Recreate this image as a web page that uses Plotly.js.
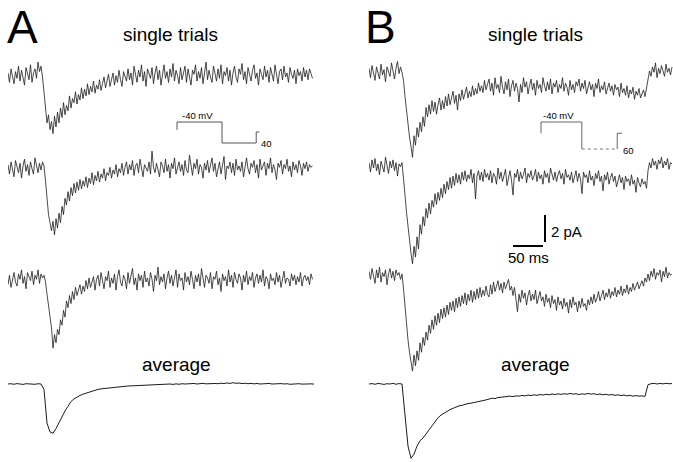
<!DOCTYPE html>
<html>
<head>
<meta charset="utf-8">
<script src="https://cdn.plot.ly/plotly-3.0.1.min.js"></script>
<style>html,body{margin:0;padding:0;background:#fff;}#chart{width:673px;height:462px;}</style>
</head>
<body>
<div id="chart"></div>
<script>
// sampling intervals (ms)
const DT_TRIAL = 2.5;
const DT_AVG = 5;

// Panel A single trials (pA, relative to baseline), sampled every 2.5 ms
const A_trial1 = [0.3,-0.4,0.6,0.1,-0.5,0.4,-0.1,0.8,-0.3,0.5,
 0.0,-0.6,0.7,0.2,-0.2,0.9,-0.4,0.3,0.6,-0.1,
 1.1,0.4,0.8,
 0.0,-1.2,-2.3,-3.4,-2.8,-3.9,-3.3,
 -4.2,-2.9,-3.7,-2.6,-3.4,-2.3,-3.0,-1.9,-2.8,-2.1,
 -2.5,-1.4,-2.3,-1.6,-1.9,-1.1,-2.0,-1.3,-1.7,-0.8,
 -1.6,-0.9,-1.4,-0.5,-1.3,-0.7,-1.1,-0.3,-1.2,-0.6,
 -0.9,-0.2,-1.0,-0.5,0.0,-0.8,-0.3,0.2,-0.7,-0.1,
 0.3,-0.6,0.1,-0.4,0.5,-0.2,-0.7,0.4,0.0,-0.3,
 0.6,-0.2,0.3,-0.6,0.8,0.1,-0.4,0.5,0.0,0.9,
 -0.3,0.4,-0.7,0.6,0.2,-0.1,0.7,-0.5,0.3,0.8,
 -0.2,0.5,-0.6,0.2,0.9,-0.1,0.4,-0.4,0.6,0.0,
 1.0,-0.3,0.5,0.1,-0.5,0.7,-0.2,0.3,0.8,-0.4,
 0.6,0.0,-0.6,0.5,0.2,0.9,-0.3,0.4,-0.1,0.7,
 -0.5,0.3,1.1,-0.2,0.5,0.0,-0.4,0.8,0.2,-0.3,
 0.6,-0.1,0.9,-0.5,0.4,0.1,0.7,-0.3,0.5,-0.6,
 0.3,0.8,0.0,-0.4,0.6,0.2,1.0,-0.2,0.4,-0.5,
 0.7,0.1,-0.3,0.5,0.9,-0.1,0.3,-0.6,0.6,0.2,
 -0.2,0.8,0.0,0.5,-0.4,0.7,0.1,-0.3,0.9,0.3,
 -0.5,0.4,0.6,-0.2,0.8,0.0,0.3,-0.4,0.7,0.2,
 -0.1,0.5,-0.5,0.6,0.1,0.4,-0.3,0.7,0.0,0.5,
 -0.2,0.6,0.3,-0.1];
const A_trial2 = [0.4,-0.3,0.6,0.0,-0.5,0.7,0.2,-0.2,0.5,-0.6,
 0.3,0.8,-0.1,0.4,-0.4,0.6,0.1,-0.3,0.9,0.2,
 -0.2,0.5,0.0,0.6,0.3,
 -0.8,-2.1,-3.3,-3.9,-4.5,
 -3.8,-4.8,-3.6,-4.3,-3.2,-3.9,-2.7,-3.3,-2.1,-2.6,
 -1.6,-2.3,-1.3,-1.9,-1.0,-1.7,-0.9,-1.5,-0.7,-1.4,
 -0.8,-1.2,-0.5,-1.3,-0.6,-1.0,-0.2,-1.1,-0.4,-0.8,
 -0.1,-0.9,-0.3,-0.6,0.1,-0.8,-0.2,-0.4,0.2,-0.6,
 0.0,-0.3,0.4,-0.5,0.1,-0.2,0.5,-0.4,0.2,0.6,
 -0.3,0.4,0.0,0.7,-0.4,0.3,0.5,-0.2,0.8,0.1,
 -0.5,0.4,0.2,-0.1,0.6,-0.3,1.4,0.2,-0.2,0.5,
 0.0,-0.5,0.6,0.3,-0.2,0.8,-0.1,0.4,-0.6,0.5,
 0.1,0.9,-0.3,0.3,0.6,-0.1,0.4,-0.4,0.7,0.0,
 -0.2,1.1,0.3,-0.4,0.5,0.1,0.8,-0.3,0.4,0.2,
 -0.6,0.5,0.0,0.7,-0.2,0.3,0.9,-0.1,0.5,-0.5,
 0.2,0.6,-0.3,0.4,1.0,-0.7,0.3,0.1,0.6,-0.2,
 0.5,-0.4,0.8,0.0,0.3,-0.1,0.6,-0.5,0.4,0.9,
 0.1,-0.3,0.5,0.2,0.7,-0.2,0.4,-0.6,0.8,0.0,
 0.3,0.6,-0.4,0.5,0.1,0.9,-0.2,0.4,0.0,-0.7,
 0.5,0.2,0.7,-0.3,0.4,0.1,0.8,-0.1,0.3,-0.5,
 0.6,0.0,0.4,-0.2,0.7,0.3,-0.4,0.5,0.1,0.6,
 -0.1,0.4,0.2,0.3];
const A_trial3 = [-0.2,0.5,-0.4,0.3,0.7,0.0,-0.3,0.6,0.2,0.9,
 -0.1,0.4,-0.5,0.7,0.3,0.1,0.8,-0.2,0.5,0.2,
 0.9,-0.1,0.6,0.3,0.5,
 0.0,-0.9,-1.8,-2.6,-3.4,
 -4.9,-3.9,-4.5,-3.5,-3.9,-2.8,-3.2,-2.1,-2.6,-1.4,
 -1.9,-1.0,-1.6,-0.7,-1.3,-0.4,-1.0,-0.6,-0.2,-0.9,
 -0.3,-0.7,0.1,-0.5,0.3,-0.4,0.0,0.4,-0.6,0.2,
 0.5,-0.3,0.7,0.0,-0.5,0.4,0.1,0.8,-0.4,0.3,
 -0.1,0.6,-0.6,0.4,0.9,0.0,-0.3,0.5,0.2,-0.5,
 0.7,-0.1,0.4,1.0,-0.2,0.3,-0.6,0.6,0.1,0.5,
 -0.4,0.8,0.0,0.3,-0.3,0.7,0.2,-0.7,0.5,0.1,
 1.1,-0.2,0.4,0.0,0.6,-0.5,0.3,0.8,-0.1,0.5,
 -0.3,0.2,0.9,-0.4,0.6,0.1,0.3,-0.6,0.7,0.0,
 0.4,-0.2,0.8,0.2,-0.5,0.5,0.0,0.6,-0.3,1.0,
 0.1,-0.4,0.5,0.3,-0.1,0.7,-0.5,0.4,0.2,0.8,
 -0.2,0.3,-0.7,0.6,0.1,0.4,-0.3,0.9,0.0,0.5,
 -0.4,0.7,0.2,-0.1,0.6,0.3,-0.6,0.5,0.0,0.8,
 -0.2,0.4,0.1,0.7,-0.4,0.3,0.6,-0.1,0.5,0.0,
 0.9,-0.3,0.4,0.2,-0.5,0.6,0.1,0.3,-0.2,0.7,
 0.0,0.5,-0.4,0.4,0.8,-0.1,0.3,0.2,-0.3,0.6,
 0.1,0.5,-0.2,0.4,0.0,0.7,-0.3,0.3,0.5,0.1,
 0.4,-0.2,0.6,0.2];
// Panel A average (pA), sampled every 5 ms
const A_average = [0.0,0.02,-0.02,0.03,0.0,-0.03,0.02,0.0,0.03,-0.02,0.02,0.0,
 -0.4,-2.9,-3.55,-3.65,-3.3,-2.85,-2.45,-2.0,-1.65,-1.3,-1.1,-0.95,-0.85,-0.75,-0.68,-0.6,-0.5,-0.45,-0.4,-0.36,-0.33,-0.3,-0.27,-0.25,-0.24,-0.2,-0.2,-0.17,-0.15,
 -0.14,-0.1,-0.12,-0.08,-0.1,-0.06,-0.08,-0.05,-0.07,-0.03,-0.06,-0.02,-0.04,0.0,-0.03,0.01,-0.02,0.02,0.0,0.03,0.01,0.04,0.0,0.02,0.05,0.01,0.03,0.0,0.04,0.02,0.06,0.03,0.08,0.04,0.1,0.05,0.07,0.03,0.06,0.02,0.05,0.01,0.04,0.0,0.03,0.01,0.04,0.0,0.02,-0.01,0.03,0.0,0.02,-0.02,0.01,0.0,0.02,-0.01,0.01,0.0,0.01,-0.01];

// Panel B single trials (pA, relative to baseline), sampled every 2.5 ms
const B_trial1 = [0.5,-0.2,0.7,0.1,-0.4,0.6,0.2,-0.3,0.8,0.0,
 0.4,-0.5,0.6,0.3,-0.1,0.9,0.2,-0.3,0.5,1.0,
 0.1,0.6,0.2,
 -0.4,-1.6,-2.8,-3.5,-4.6,-5.3,-6.1,
 -4.5,-5.2,-3.9,-4.6,-3.5,-4.2,-3.1,-3.8,-2.4,-3.1,
 -2.2,-2.9,-1.9,-2.7,-2.0,-2.9,-2.2,-1.7,-2.6,-1.9,
 -2.5,-1.6,-2.3,-1.4,-2.2,-1.7,-1.2,-2.1,-1.5,-2.6,
 -1.4,-1.9,-1.1,-1.8,-1.3,-0.9,-1.7,-1.2,-1.6,-0.8,
 -1.5,-1.0,-1.4,-0.6,-1.2,-0.8,-1.3,-0.4,-1.1,-0.7,
 -0.3,-1.2,-0.6,-1.5,-0.2,-1.0,-0.7,-1.3,-0.1,-0.9,
 -1.4,-0.5,-1.1,-0.3,-1.6,-0.8,-0.4,-1.2,-0.6,-1.0,
 -2.0,-0.7,-1.3,-0.2,-0.9,-0.5,-1.4,-0.8,-0.3,-1.1,
 -0.6,-1.5,-0.4,-1.0,-0.7,-1.3,-0.2,-0.8,-1.2,-0.5,
 -1.1,-0.3,-1.4,-0.6,-0.9,-0.4,-1.3,-0.7,-1.0,-0.2,
 -1.2,-0.6,-0.9,-1.5,-0.4,-1.1,-0.7,-1.3,-0.5,-0.8,
 -0.3,-1.2,-0.6,-1.0,-0.4,-1.4,-0.8,-0.5,-1.1,-0.7,
 -1.6,-0.6,-1.0,-0.3,-1.3,-0.8,-1.1,-0.5,-1.4,-0.9,
 -0.6,-1.2,-0.8,-1.5,-0.7,-1.1,-0.9,-1.6,-0.6,-1.3,
 -1.0,-1.5,-0.8,-1.7,-1.1,-1.4,-0.9,-1.8,-1.2,-1.5,
 -1.0,-1.7,-1.3,-1.1,-1.6,-0.9,
 -0.5,0.3,-0.1,0.6,0.2,0.9,-0.2,0.5,0.1,0.7,0.3,-0.1,0.8,0.2,0.5,0.0,0.6];
const B_trial2 = [0.4,-0.3,0.6,0.0,0.7,-0.2,0.3,-0.5,0.5,0.1,
 -0.3,0.8,0.2,-0.4,0.5,0.0,0.6,-0.2,0.4,-0.6,
 0.3,0.1,0.4,
 -0.6,-2.0,-3.3,-4.5,-5.4,-6.3,-7.1,
 -5.8,-6.6,-5.1,-6.0,-4.2,-4.9,-3.6,-4.3,-3.0,-3.7,
 -2.6,-3.4,-2.4,-2.9,-1.9,-2.7,-1.8,-2.4,-1.5,-2.2,
 -1.2,-1.9,-1.0,-1.6,-0.7,-1.5,-0.6,-1.3,-0.4,-1.1,
 -0.5,-1.2,-0.3,-0.9,-0.2,-1.0,-0.5,-0.8,-0.1,-1.1,
 -0.4,-2.3,-0.6,-0.2,-0.9,-0.3,-1.0,-0.1,-0.7,-0.4,
 -0.9,-0.2,-1.1,-0.4,-0.6,-1.2,0.0,-0.8,-0.3,-1.0,
 -0.5,-0.1,-1.3,-0.6,-0.2,-0.9,-2.0,-0.4,-0.7,-0.1,
 -1.0,-0.3,-0.8,-0.5,0.0,-1.1,-0.4,-0.7,-0.2,-0.9,
 -0.6,-0.1,-1.0,-0.3,-0.8,-0.5,-1.2,-0.2,-0.7,-0.4,
 -1.1,0.0,-0.6,-0.9,-0.3,-1.0,-0.5,-0.2,-0.8,-0.4,
 -1.2,-0.1,-0.7,-0.5,-0.9,-0.3,-1.1,-0.6,-0.2,-1.0,
 -0.4,-0.8,-1.9,-0.3,-0.7,-0.5,-1.1,-0.2,-0.9,-0.6,
 -1.3,-0.4,-0.8,-0.2,-1.0,-0.6,-1.7,-0.5,-0.9,-0.3,
 -1.2,-0.7,-0.4,-1.0,-0.6,-1.4,-0.8,-0.5,-1.1,-0.7,
 -1.6,-0.6,-1.0,-0.8,-1.3,-0.5,-1.2,-0.9,-1.8,-0.7,
 -1.1,-1.4,-0.8,-1.2,-1.0,-1.5,
 -0.2,0.4,0.0,0.7,0.2,0.5,-0.1,0.6,0.3,0.8,0.0,0.5,0.2,0.7,-0.1,0.4,0.3];
const B_trial3 = [0.5,-0.1,0.7,0.2,-0.4,0.6,0.0,0.8,-0.3,0.4,
 0.1,0.6,-0.5,0.3,0.7,0.0,0.5,-0.2,0.6,0.2,
 0.4,-0.1,0.3,
 -0.8,-2.2,-3.5,-4.6,-5.5,-6.3,-6.9,
 -5.7,-6.5,-5.4,-6.1,-4.8,-5.5,-4.4,-5.0,-4.0,-4.6,
 -3.5,-4.1,-3.1,-3.8,-2.8,-3.5,-2.6,-3.3,-2.3,-3.0,
 -2.2,-2.9,-2.0,-2.7,-1.8,-2.4,-1.7,-2.5,-1.5,-2.2,
 -1.4,-2.1,-1.3,-1.9,-1.1,-2.0,-1.2,-1.7,-0.9,-1.8,
 -1.0,-1.6,-0.8,-1.5,-0.7,-1.4,-0.9,-1.3,-0.6,-1.2,
 -1.4,-0.5,-1.2,-0.3,-1.0,-0.6,-0.2,-0.9,-0.4,-1.1,-0.3,-0.8,-0.5,-0.1,-0.9,-0.6,
 -1.3,-0.7,-1.6,-2.5,-1.2,-1.8,-0.9,-1.5,-1.1,-2.0,-1.3,-0.9,-1.7,-1.2,
 -1.6,-0.9,-1.9,-1.3,-1.0,-1.7,-1.4,-2.1,-1.2,-1.8,
 -1.5,-2.2,-1.3,-1.9,-1.6,-2.4,-1.4,-2.0,-1.7,-2.3,
 -1.5,-2.1,-1.8,-2.6,-1.6,-2.2,-1.4,-2.0,-1.8,-2.5,
 -1.7,-2.2,-1.5,-2.1,-1.9,-2.4,-1.6,-2.0,-1.4,-1.9,
 -1.2,-1.8,-1.5,-1.0,-1.7,-1.3,-0.9,-1.6,-1.1,-1.4,
 -0.8,-1.5,-1.0,-1.3,-0.7,-1.4,-0.9,-1.2,-0.6,-1.3,
 -0.8,-1.1,-0.5,-1.2,-0.7,-1.0,-0.4,-0.9,-0.6,-0.3,
 -0.8,-0.4,-0.2,-0.6,0.0,-0.3,
 0.3,-0.2,0.5,0.1,0.7,-0.1,0.4,0.2,0.6,-0.3,0.5,0.1,0.8,0.0,0.4,0.2,0.3];
// Panel B average (pA), sampled every 5 ms
const B_average = [0.0,0.03,-0.02,0.04,0.01,-0.03,0.02,0.0,0.05,-0.02,0.03,0.0,
 -2.3,-4.6,-5.5,-5.2,-4.6,-4.2,-4.0,-3.7,-3.35,-3.05,-2.75,-2.5,-2.3,-2.15,-2.0,-1.9,-1.8,-1.7,-1.62,-1.58,-1.5,-1.45,-1.42,-1.38,-1.3,-1.28,-1.22,-1.18,-1.12,
 -1.05,-1.08,-1.0,-0.98,-0.95,-0.97,-0.9,-0.93,-0.88,-0.9,-0.85,-0.88,-0.82,-0.86,-0.8,-0.84,-0.78,-0.82,-0.76,-0.8,-0.74,-0.78,-0.73,-0.77,-0.72,-0.76,-0.7,-0.75,-0.72,-0.78,-0.73,-0.76,-0.7,-0.75,-0.72,-0.78,-0.74,-0.8,-0.76,-0.82,-0.78,-0.84,-0.8,-0.86,-0.82,-0.88,-0.84,-0.9,-0.86,-0.9,-0.88,-0.92,
 -0.05,0.02,0.05,0.0,0.04,0.01,0.05,0.02,0.03];

// Voltage protocols (relative ms, mV)
const protoA_ms = [0, 0, 75, 75, 132, 132, 137];
const protoA_mV = [-55, -40, -40, -80, -80, -59, -59];
const protoB_ms = [0, 0, 68, 68, 127, 127, 135];
const protoB_mV = [-65, -40, -40, -100, -100, -65, -65];

// Scale bars
const SCALE_MS = 50;
const SCALE_PA = 2;

// Labels
const panelLabels = ['A', 'B'];
const rowLabels = ['single trials', 'average'];
const stepLabels = ['-40 mV', '40', '60'];

// ---- layout geometry (pixels) ----
const W = 673, H = 462;
const PX_PER_MS = 0.6, PX_PER_PA = 13.5;
const yOff = px => -px / PX_PER_PA;
const times = (arr, dt) => arr.map((_, i) => i * dt);
const shift = (arr, off) => arr.map(v => v + off);

const noisy = {color: '#1c1c1c', width: 0.8};
const smooth = {color: '#1c1c1c', width: 1};

const rowsA = [[A_trial1, 77, noisy, DT_TRIAL], [A_trial2, 170, noisy, DT_TRIAL], [A_trial3, 282, noisy, DT_TRIAL], [A_average, 384, smooth, DT_AVG]];
const rowsB = [[B_trial1, 75, noisy, DT_TRIAL], [B_trial2, 168, noisy, DT_TRIAL], [B_trial3, 278, noisy, DT_TRIAL], [B_average, 384, smooth, DT_AVG]];

const data = [];
rowsA.forEach(([arr, base, ln, dt]) => data.push({x: times(arr, dt), y: shift(arr, yOff(base)), xaxis: 'x', yaxis: 'y', mode: 'lines', line: ln, hoverinfo: 'skip'}));
rowsB.forEach(([arr, base, ln, dt]) => data.push({x: times(arr, dt), y: shift(arr, yOff(base)), xaxis: 'x2', yaxis: 'y', mode: 'lines', line: ln, hoverinfo: 'skip'}));

// protocol A (on panel A time axis)
const pA0 = 281.7;
data.push({x: protoA_ms.map(v => v + pA0), y: protoA_mV, xaxis: 'x', yaxis: 'y3', mode: 'lines', line: {color: '#555', width: 1}, hoverinfo: 'skip'});
// protocol B: solid parts and dotted bottom
const pB0 = 286.7;
const pbx = protoB_ms.map(v => v + pB0);
data.push({x: [pbx[0], pbx[1], pbx[2], pbx[3], null, pbx[4], pbx[5], pbx[6]], y: [protoB_mV[0], protoB_mV[1], protoB_mV[2], protoB_mV[3], null, protoB_mV[4], protoB_mV[5], protoB_mV[6]], xaxis: 'x2', yaxis: 'y4', mode: 'lines', line: {color: '#666', width: 1}, hoverinfo: 'skip'});
data.push({x: [pbx[3], pbx[4]], y: [protoB_mV[3], protoB_mV[4]], xaxis: 'x2', yaxis: 'y4', mode: 'lines', line: {color: '#777', width: 1, dash: 'dot'}, hoverinfo: 'skip'});

// scale bars (panel B axis)
const sbX = 293.3, sbTop = yOff(215);
data.push({x: [sbX, sbX], y: [sbTop, sbTop - SCALE_PA], xaxis: 'x2', yaxis: 'y', mode: 'lines', line: {color: '#000', width: 2}, hoverinfo: 'skip'});
const hbY = yOff(246), hbEnd = 290;
data.push({x: [hbEnd - SCALE_MS, hbEnd], y: [hbY, hbY], xaxis: 'x2', yaxis: 'y', mode: 'lines', line: {color: '#000', width: 2}, hoverinfo: 'skip'});

const hidden = {visible: false, fixedrange: true, showgrid: false, zeroline: false};
const px = v => v / W, py = v => 1 - v / H;
const ann = (text, x, y, size, xa) => ({text, x: px(x), y: py(y), xref: 'paper', yref: 'paper', xanchor: xa || 'center', yanchor: 'middle', showarrow: false, font: {family: 'Liberation Sans, Arial, sans-serif', size, color: '#000'}});

const layout = {
  width: W, height: H,
  margin: {l: 0, r: 0, t: 0, b: 0},
  paper_bgcolor: '#fff', plot_bgcolor: '#fff',
  showlegend: false,
  xaxis: Object.assign({domain: [8 / W, 314 / W], range: [0, 306 / PX_PER_MS], anchor: 'y'}, hidden),
  xaxis2: Object.assign({domain: [369 / W, 1], range: [0, 304 / PX_PER_MS], anchor: 'y'}, hidden),
  yaxis: Object.assign({domain: [0, 1], range: [-H / PX_PER_PA, 0]}, hidden),
  yaxis3: Object.assign({domain: [0, 1], overlaying: 'y', range: [-40 - 340 / 0.525, -40 + 122 / 0.525]}, hidden),
  yaxis4: Object.assign({domain: [0, 1], overlaying: 'y', range: [-40 - 340 / 0.45, -40 + 122 / 0.45]}, hidden),
  annotations: [
    ann(panelLabels[0], 23, 27, 46),
    ann(panelLabels[1], 380, 27, 46),
    ann(rowLabels[0], 170, 34, 19),
    ann(rowLabels[0], 535, 34, 19),
    ann(rowLabels[1], 176, 364, 19),
    ann(rowLabels[1], 535, 364, 19),
    ann(stepLabels[0], 197, 116, 9.5),
    ann(stepLabels[0], 558, 116, 9.5),
    ann(stepLabels[1], 266, 143, 9.5),
    ann(stepLabels[2], 628, 150, 9.5),
    ann(SCALE_PA + ' pA', 549, 231, 15, 'left'),
    ann(SCALE_MS + ' ms', 528, 257, 15)
  ]
};

Plotly.newPlot('chart', data, layout, {staticPlot: true, displayModeBar: false});
</script>
</body>
</html>
